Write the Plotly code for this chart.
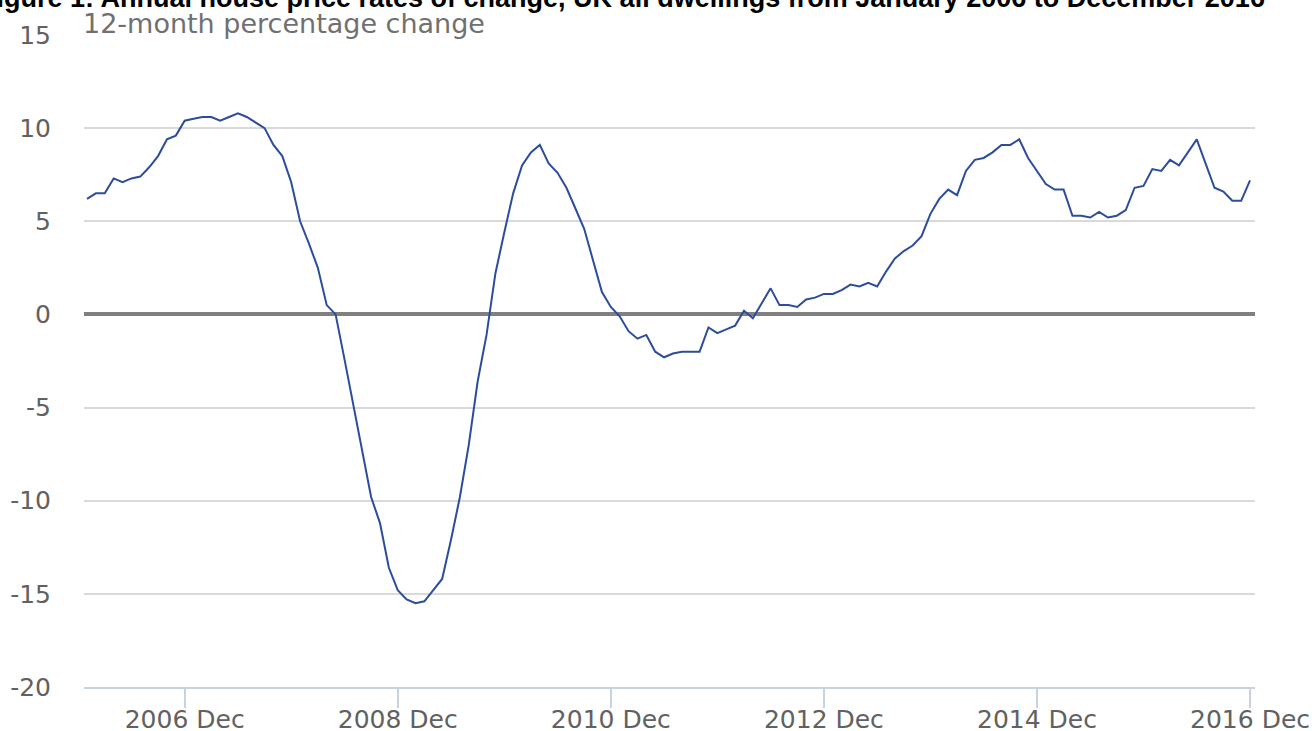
import plotly.graph_objects as go

# Monthly 12-month percentage change, UK all dwellings, Jan 2006 - Dec 2016
months = [f"{y} {m}" for y in range(2006, 2017) for m in
          ["Jan", "Feb", "Mar", "Apr", "May", "Jun", "Jul", "Aug", "Sep", "Oct", "Nov", "Dec"]]

values = [
    # 2006
    6.2, 6.5, 6.5, 7.3, 7.1, 7.3, 7.4, 7.9, 8.5, 9.4, 9.6, 10.4,
    # 2007
    10.5, 10.6, 10.6, 10.4, 10.6, 10.8, 10.6, 10.3, 10.0, 9.1, 8.5, 7.1,
    # 2008
    5.0, 3.8, 2.5, 0.5, 0.0, -2.4, -4.9, -7.3, -9.8, -11.2, -13.6, -14.8,
    # 2009
    -15.3, -15.5, -15.4, -14.8, -14.2, -12.1, -9.8, -7.0, -3.6, -1.1, 2.2, 4.4,
    # 2010
    6.5, 8.0, 8.7, 9.1, 8.1, 7.6, 6.8, 5.7, 4.6, 2.9, 1.2, 0.4,
    # 2011
    -0.1, -0.9, -1.3, -1.1, -2.0, -2.3, -2.1, -2.0, -2.0, -2.0, -0.7, -1.0,
    # 2012
    -0.8, -0.6, 0.2, -0.2, 0.6, 1.4, 0.5, 0.5, 0.4, 0.8, 0.9, 1.1,
    # 2013
    1.1, 1.3, 1.6, 1.5, 1.7, 1.5, 2.3, 3.0, 3.4, 3.7, 4.2, 5.4,
    # 2014
    6.2, 6.7, 6.4, 7.7, 8.3, 8.4, 8.7, 9.1, 9.1, 9.4, 8.4, 7.7,
    # 2015
    7.0, 6.7, 6.7, 5.3, 5.3, 5.2, 5.5, 5.2, 5.3, 5.6, 6.8, 6.9,
    # 2016
    7.8, 7.7, 8.3, 8.0, 8.7, 9.4, 8.1, 6.8, 6.6, 6.1, 6.1, 7.2,
]

x_tick_labels = ["2006 Dec", "2008 Dec", "2010 Dec", "2012 Dec", "2014 Dec", "2016 Dec"]
y_tick_vals = [-20, -15, -10, -5, 0, 5, 10, 15]
y_tick_labels = ["-20", "-15", "-10", "-5", "0", "5", "10", "15"]

title_text = ("Figure 1: Annual house price rates of change, UK all dwellings "
              "from January 2006 to December 2016")
subtitle_text = "12-month percentage change"

x_idx = list(range(len(months)))
tick_vals = [months.index(m) for m in x_tick_labels]

fig = go.Figure()
fig.add_trace(go.Scatter(
    x=x_idx, y=values, mode="lines",
    line=dict(color="#2c4c9c", width=2),
    text=months, hovertemplate="%{text}: %{y}<extra></extra>",
))

fig.update_layout(
    width=1314, height=731,
    margin=dict(l=84, r=59, t=35, b=44),
    plot_bgcolor="white", paper_bgcolor="white",
    showlegend=False,
    font=dict(family="DejaVu Sans", color="#616161"),
    xaxis=dict(
        range=[-0.34, 131.56],
        tickmode="array", tickvals=tick_vals, ticktext=x_tick_labels,
        showgrid=False, zeroline=False,
        showline=True, linecolor="#c8d3e2", linewidth=2,
        ticks="outside", ticklen=19, tickwidth=2, tickcolor="#c8d3e2",
        ticklabelstandoff=-10,
        tickfont=dict(size=25, color="#616161", family="DejaVu Sans"),
        automargin=False,
    ),
    yaxis=dict(
        range=[-20, 15],
        tickmode="array", tickvals=y_tick_vals, ticktext=y_tick_labels,
        showgrid=True, gridcolor="#d9d9d9", gridwidth=2,
        zeroline=True, zerolinecolor="#808080", zerolinewidth=4,
        showline=False, ticks="",
        ticklabelstandoff=32,
        tickfont=dict(size=25, color="#616161", family="DejaVu Sans"),
        automargin=False,
    ),
    annotations=[
        dict(text=subtitle_text, xref="paper", yref="paper", x=0, xshift=-3, y=1,
             xanchor="left", yanchor="bottom", yshift=-6, showarrow=False,
             font=dict(size=27, color="#707070", family="DejaVu Sans")),
        dict(text="<b>" + title_text + "</b>", xref="paper", yref="paper",
             x=1, xshift=1267 - 1255, y=1, yanchor="bottom", yshift=20,
             xanchor="right", showarrow=False,
             font=dict(size=27, color="#000000", family="Liberation Sans")),
    ],
)

fig.write_html(
    "out.html",
    config={"displayModeBar": False},
    post_script="document.body.style.margin='0';document.body.style.overflow='hidden';",
)
